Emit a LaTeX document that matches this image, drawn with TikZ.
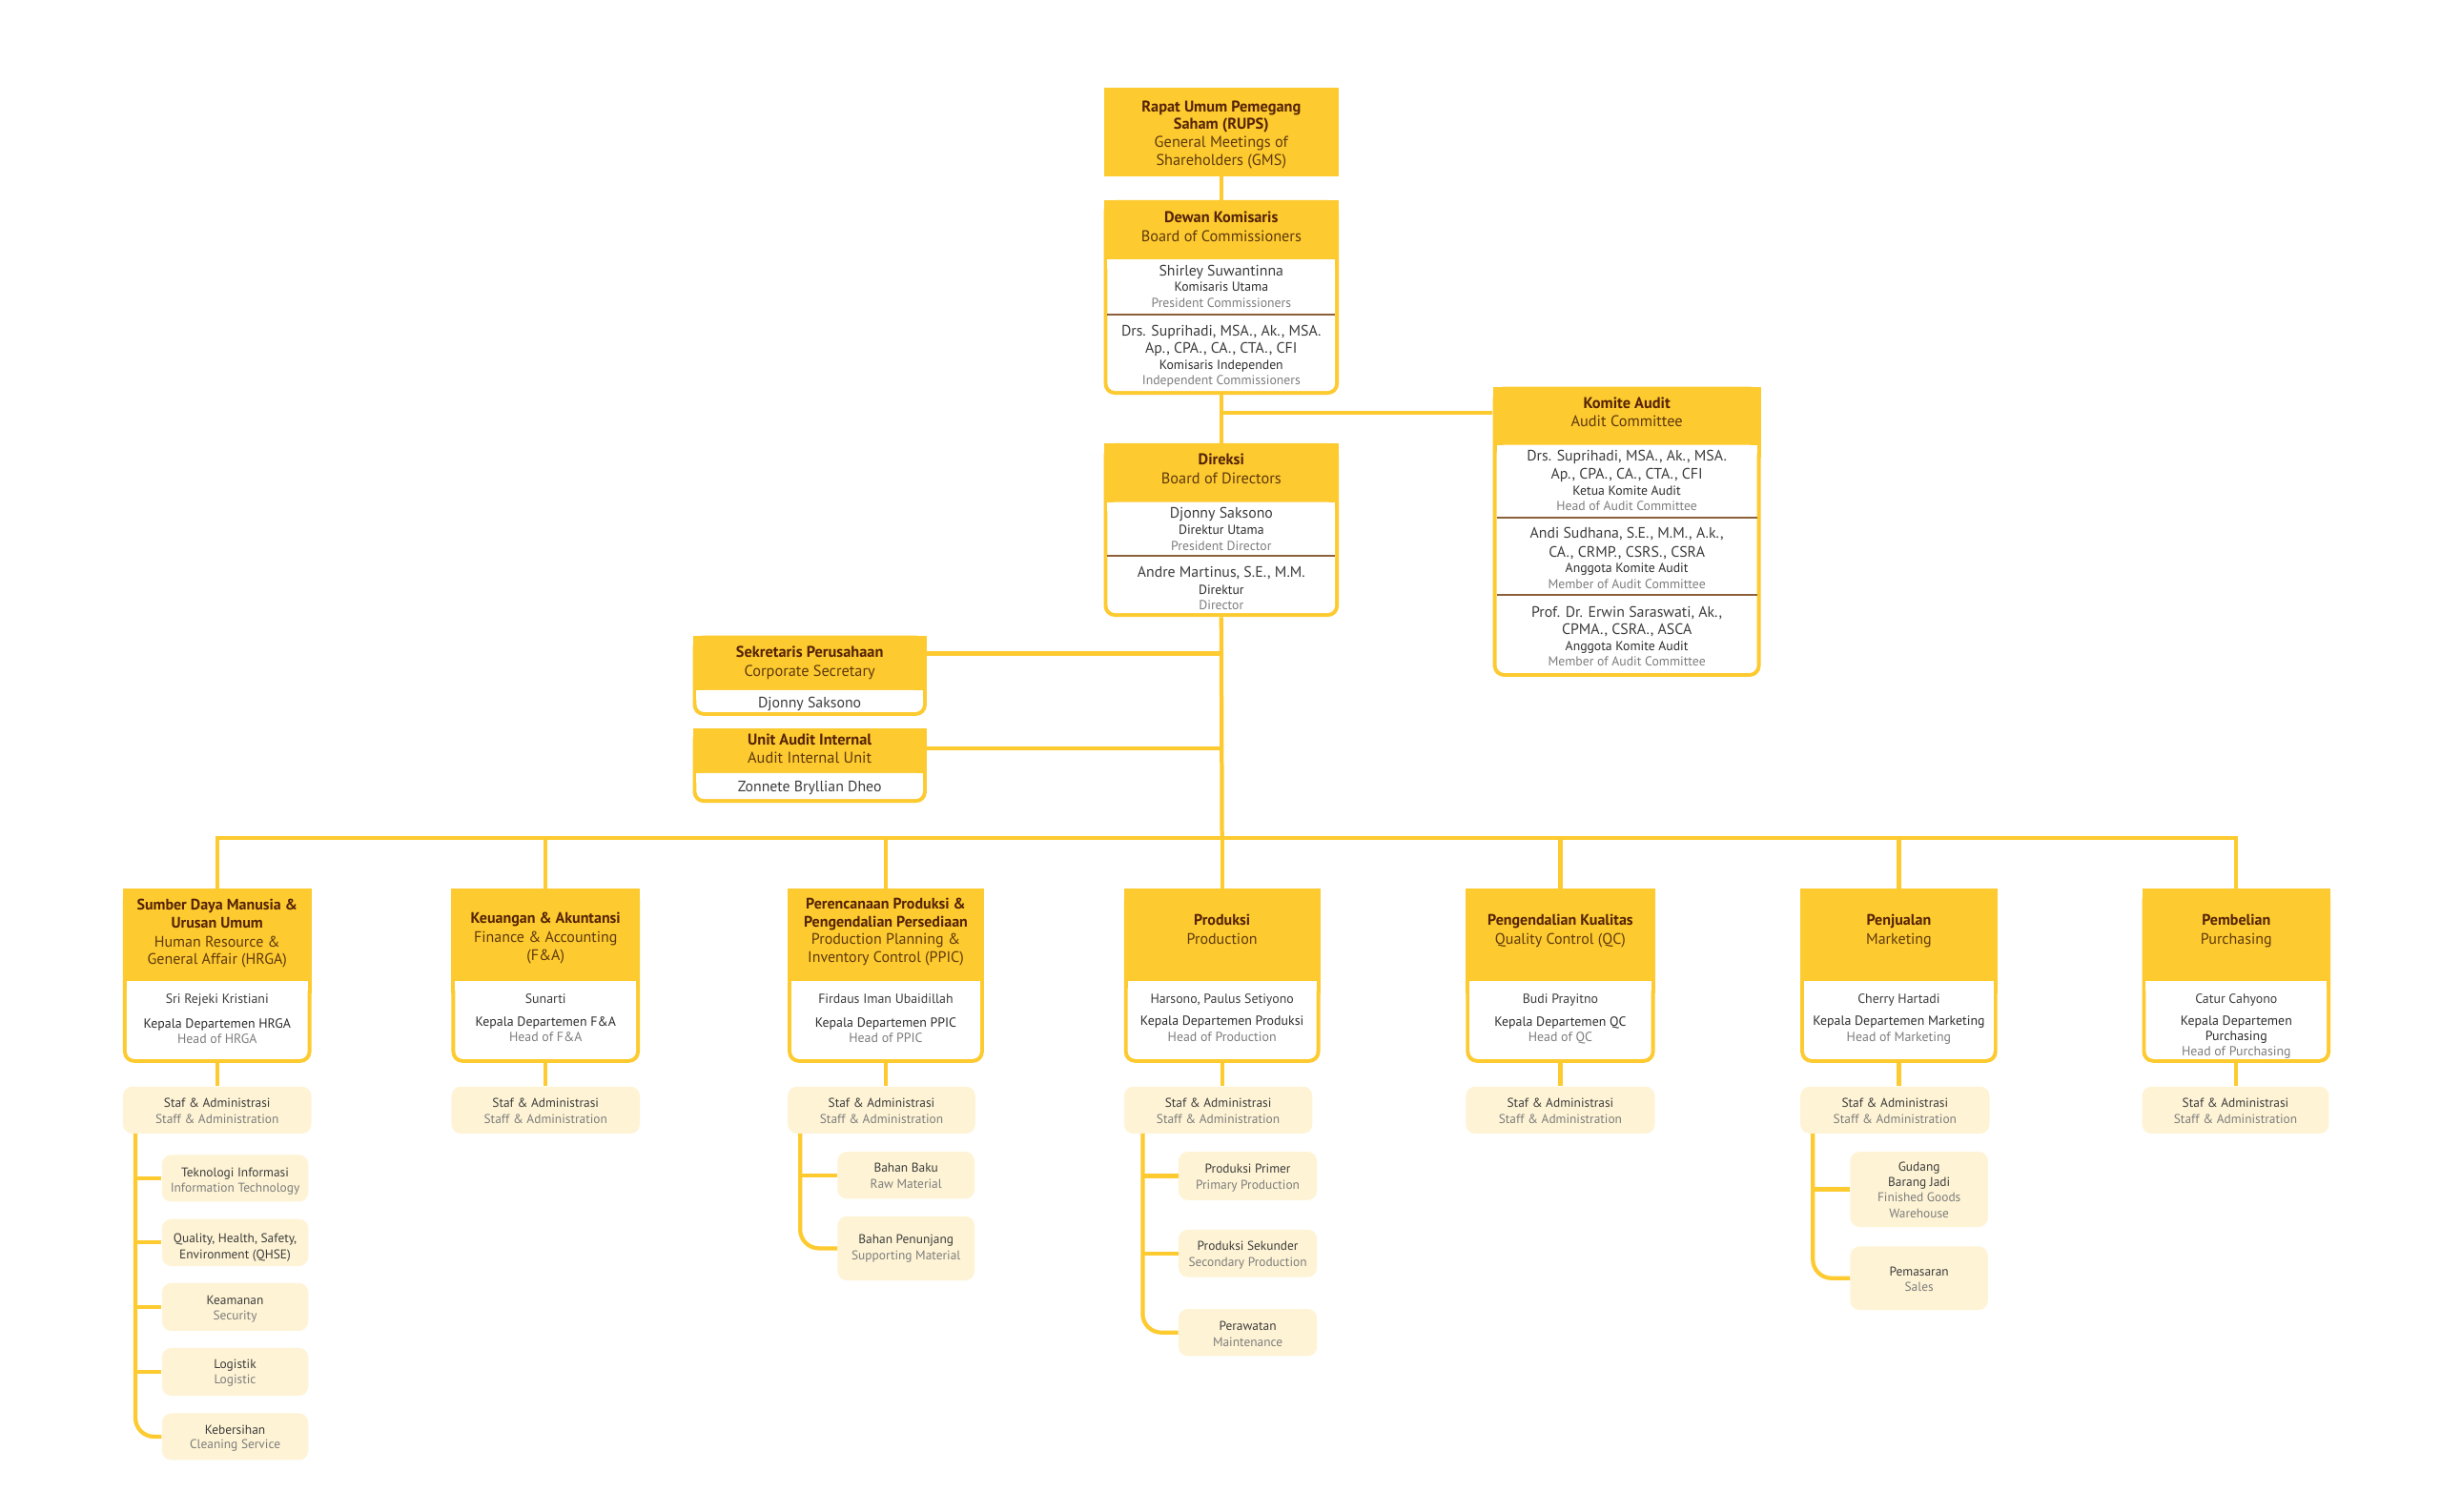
\documentclass[tikz,border=0pt]{standalone}
\usepackage{fontspec}
\setmainfont{PT Sans}
\definecolor{cyel}{RGB}{253,202,48}
\definecolor{cpale}{RGB}{254,243,212}
\definecolor{cdiv}{RGB}{140,96,58}
\definecolor{chb}{RGB}{85,35,5}
\definecolor{chr}{RGB}{95,58,12}
\definecolor{cdark}{RGB}{60,60,60}
\definecolor{crole}{RGB}{45,45,45}
\definecolor{cgray}{RGB}{125,125,125}
\newcounter{tlc}
\newcommand{\tline}[4]{\stepcounter{tlc}\node[#1] (txt\arabic{tlc}) at (#2,#3) {#4};}
% name, x1, x2, ytop, yhead, ybot
\newcommand{\unitbox}[6]{%
 \fill[cyel, rounded corners=7pt] (#2,#4) rectangle (#3,#6);
 \fill[cyel] (#2,#4) rectangle (#3,{#5+8});
 \fill[white, rounded corners=5pt] ({#2+2.4},#5) rectangle ({#3-2.4},{#6-2.4});
 \fill[white] ({#2+2.4},#5) rectangle ({#3-2.4},{#5+6});
 \node[inner sep=0pt, minimum width={#3-#2}, minimum height={#6-#4}] (#1) at ({(#2+#3)/2},{(#4+#6)/2}) {};
}
\newcommand{\palebox}[5]{%
 \node[fill=cpale, rounded corners=6pt, inner sep=0pt, minimum width={#3-#2}, minimum height={#5-#4}] (#1) at ({(#2+#3)/2},{(#4+#5)/2}) {};
}
\newcommand{\divline}[3]{\draw[cdiv, line width=1.3pt] ({#1+2.4},#3) -- ({#2-2.4},#3);}
\tikzset{
 conn/.style={draw=cyel, line width=2.6pt},
 tl/.style={inner sep=0pt, text height=6.2pt, text depth=0pt},
 hb/.style={tl, font=\bfseries\fontsize{10}{11}\selectfont, text=chb},
 hr/.style={tl, font=\fontsize{10}{11}\selectfont, text=chr},
 nm/.style={tl, font=\fontsize{9.7}{11}\selectfont, text=cdark},
 rl/.style={tl, font=\fontsize{8.4}{10}\selectfont, text=crole},
 en/.style={tl, font=\fontsize{8.4}{10}\selectfont, text=cgray},
 dhb/.style={tl, font=\bfseries\fontsize{9.8}{11}\selectfont, text=chb},
 dhr/.style={tl, font=\fontsize{9.8}{11}\selectfont, text=chr},
 dn/.style={tl, font=\fontsize{8.5}{10}\selectfont, text=cdark},
 dr/.style={tl, font=\fontsize{8.5}{10}\selectfont, text=crole},
 de/.style={tl, font=\fontsize{8.5}{10}\selectfont, text=cgray},
 sd/.style={tl, font=\fontsize{8.2}{9}\selectfont, text=cdark},
 sg/.style={tl, font=\fontsize{8.2}{9}\selectfont, text=cgray},
}
\begin{document}
\begin{tikzpicture}[x=1pt,y=-1pt]
\useasboundingbox[fill=white] (0,0) rectangle (1568,971.4);

% ---------- top boxes ----------
\fill[cyel] (709,56.5) rectangle (860,113.3);
\node[inner sep=0pt, minimum width=151, minimum height=56.8] (rups) at (784.5,84.9) {};
\unitbox{boc}{709}{860}{128.6}{166.6}{253.6}
\unitbox{dir}{709}{860}{284.8}{322.5}{396.3}
\unitbox{kom}{959}{1131}{248.4}{285.8}{434.8}
\unitbox{sek}{445}{595.3}{408.3}{443.4}{459.9}
\unitbox{uai}{445}{595.3}{468}{496.6}{515.8}
\divline{709}{860}{202}
\divline{709}{860}{357}
\divline{959}{1131}{332.7}
\divline{959}{1131}{382.3}

% ---------- departments ----------
\unitbox{hrga}{79}{200}{570.9}{630.3}{682.8}
\unitbox{fa}{290}{411}{570.9}{630.3}{682.8}
\unitbox{ppic}{506}{632}{570.9}{630.3}{682.8}
\unitbox{prod}{722}{848}{570.9}{630.3}{682.8}
\unitbox{qc}{941.6}{1063}{570.9}{630.3}{682.8}
\unitbox{mkt}{1156.5}{1283}{570.9}{630.3}{682.8}
\unitbox{pur}{1376}{1497}{570.9}{630.3}{682.8}

\palebox{hrgas}{79}{200}{698.1}{728.3}
\palebox{fas}{290}{411}{698.1}{728.3}
\palebox{ppics}{506}{626.5}{698.1}{728.3}
\palebox{prods}{722}{843}{698.1}{728.3}
\palebox{qcs}{941.6}{1063}{698.1}{728.3}
\palebox{mkts}{1156.5}{1278}{698.1}{728.3}
\palebox{purs}{1376}{1496}{698.1}{728.3}

% sub units
\palebox{ti}{104}{198}{742}{772}
\palebox{qhse}{104}{198}{783.2}{813.4}
\palebox{sec}{104}{198}{824.3}{855}
\palebox{logi}{104}{198}{866}{896.7}
\palebox{keb}{104}{198}{908}{938}
\palebox{baku}{538}{626}{740}{770.2}
\palebox{penun}{538}{626}{781.4}{822.6}
\palebox{prim}{757}{846}{740}{771}
\palebox{seku}{757}{846}{790}{820.5}
\palebox{rawat}{757}{846}{841}{871.2}
\palebox{gud}{1188.5}{1277}{740}{788.3}
\palebox{pem}{1188.5}{1277}{800.8}{841.6}

% ---------- connectors ----------
\coordinate (busc) at (785,538.5);
\coordinate (kj) at (785,265.3);
\coordinate (sekj) at (785,419.9);
\coordinate (uaij) at (785,480.7);
\draw[conn] (rups.south) -- (boc.north);
\draw[conn] (boc.south) -- (dir.north);
\draw[conn] (kj) -- (kj -| kom.west);
\draw[conn] (dir.south) -- (busc);
\draw[conn] (sekj) -- (sekj -| sek.east);
\draw[conn] (uaij) -- (uaij -| uai.east);
\draw[conn] (hrga.north) -- (hrga.north |- busc) -- (pur.north |- busc) -- (pur.north);
\foreach \d in {fa,ppic,prod,qc,mkt}{\draw[conn] (\d.north |- busc) -- (\d.north);}
\foreach \d in {hrga,fa,ppic,prod,qc,mkt,pur}{\draw[conn] (\d.south) -- (\d.south |- \d s.north);}

\coordinate (hsub) at (87,728.3);
\draw[conn, rounded corners=12pt] (hsub) -- (hsub |- keb.west) -- (keb.west);
\foreach \s in {ti,qhse,sec,logi}{\draw[conn] (hsub |- \s.west) -- (\s.west);}
\coordinate (psub) at (514,728.3);
\draw[conn, rounded corners=12pt] (psub) -- (psub |- penun.west) -- (penun.west);
\draw[conn] (psub |- baku.west) -- (baku.west);
\coordinate (rsub) at (734,728.3);
\draw[conn, rounded corners=12pt] (rsub) -- (rsub |- rawat.west) -- (rawat.west);
\foreach \s in {prim,seku}{\draw[conn] (rsub |- \s.west) -- (\s.west);}
\coordinate (msub) at (1164.5,728.3);
\draw[conn, rounded corners=12pt] (msub) -- (msub |- pem.west) -- (pem.west);
\draw[conn] (msub |- gud.west) -- (gud.west);

% ---------- texts: top ----------
\tline{hb}{784.5}{68.6}{Rapat Umum Pemegang}
\tline{hb}{784.5}{79.8}{Saham (RUPS)}
\tline{hr}{784.5}{91.6}{General Meetings of}
\tline{hr}{784.5}{102.9}{Shareholders (GMS)}

\tline{hb}{784.5}{140.2}{Dewan Komisaris}
\tline{hr}{784.5}{151.9}{Board of Commissioners}
\tline{nm}{784.5}{174}{Shirley Suwantinna}
\tline{rl}{784.5}{184.3}{Komisaris Utama}
\tline{en}{784.5}{194.3}{President Commissioners}
\tline{nm}{784.5}{213}{Drs. Suprihadi, MSA., Ak., MSA.}
\tline{nm}{784.5}{224}{Ap., CPA., CA., CTA., CFI}
\tline{rl}{784.5}{234.5}{Komisaris Independen}
\tline{en}{784.5}{243.8}{Independent Commissioners}

\tline{hb}{784.5}{295.6}{Direksi}
\tline{hr}{784.5}{307.8}{Board of Directors}
\tline{nm}{784.5}{329.6}{Djonny Saksono}
\tline{rl}{784.5}{340}{Direktur Utama}
\tline{en}{784.5}{350.5}{President Director}
\tline{nm}{784.5}{367.8}{Andre Martinus, S.E., M.M.}
\tline{rl}{784.5}{378.5}{Direktur}
\tline{en}{784.5}{388.3}{Director}

\tline{hb}{1045}{259.6}{Komite Audit}
\tline{hr}{1045}{271.1}{Audit Committee}
\tline{nm}{1045}{293.3}{Drs. Suprihadi, MSA., Ak., MSA.}
\tline{nm}{1045}{304.8}{Ap., CPA., CA., CTA., CFI}
\tline{rl}{1045}{315}{Ketua Komite Audit}
\tline{en}{1045}{324.8}{Head of Audit Committee}
\tline{nm}{1045}{342.9}{Andi Sudhana, S.E., M.M., A.k.,}
\tline{nm}{1045}{354.6}{CA., CRMP., CSRS., CSRA}
\tline{rl}{1045}{365}{Anggota Komite Audit}
\tline{en}{1045}{375}{Member of Audit Committee}
\tline{nm}{1045}{393.3}{Prof. Dr. Erwin Saraswati, Ak.,}
\tline{nm}{1045}{404.8}{CPMA., CSRA., ASCA}
\tline{rl}{1045}{415}{Anggota Komite Audit}
\tline{en}{1045}{425}{Member of Audit Committee}

\tline{hb}{520.1}{419}{Sekretaris Perusahaan}
\tline{hr}{520.1}{431.3}{Corporate Secretary}
\tline{nm}{520.1}{451.7}{Djonny Saksono}
\tline{hb}{520.1}{475.6}{Unit Audit Internal}
\tline{hr}{520.1}{487.5}{Audit Internal Unit}
\tline{nm}{520.1}{505.6}{Zonnete Bryllian Dheo}

% ---------- texts: departments ----------
\tline{dhb}{139.5}{581.3}{Sumber Daya Manusia \&}
\tline{dhb}{139.5}{593}{Urusan Umum}
\tline{dhr}{139.5}{605.2}{Human Resource \&}
\tline{dhr}{139.5}{616.4}{General Affair (HRGA)}
\tline{dn}{139.5}{641.3}{Sri Rejeki Kristiani}
\tline{dr}{139.5}{657.3}{Kepala Departemen HRGA}
\tline{de}{139.5}{667}{Head of HRGA}

\tline{dhb}{350.5}{590.3}{Keuangan \& Akuntansi}
\tline{dhr}{350.5}{602.6}{Finance \& Accounting}
\tline{dhr}{350.5}{613.8}{(F\&A)}
\tline{dn}{350.5}{641.3}{Sunarti}
\tline{dr}{350.5}{656.3}{Kepala Departemen F\&A}
\tline{de}{350.5}{666}{Head of F\&A}

\tline{dhb}{569}{580.7}{Perencanaan Produksi \&}
\tline{dhb}{569}{592.6}{Pengendalian Persediaan}
\tline{dhr}{569}{603.8}{Production Planning \&}
\tline{dhr}{569}{615.4}{Inventory Control (PPIC)}
\tline{dn}{569}{641.3}{Firdaus Iman Ubaidillah}
\tline{dr}{569}{656.7}{Kepala Departemen PPIC}
\tline{de}{569}{666.5}{Head of PPIC}

\tline{dhb}{785}{591.5}{Produksi}
\tline{dhr}{785}{603.6}{Production}
\tline{dn}{785}{641.3}{Harsono, Paulus Setiyono}
\tline{dr}{785}{655.6}{Kepala Departemen Produksi}
\tline{de}{785}{666}{Head of Production}

\tline{dhb}{1002.3}{591.5}{Pengendalian Kualitas}
\tline{dhr}{1002.3}{603.6}{Quality Control (QC)}
\tline{dn}{1002.3}{641.3}{Budi Prayitno}
\tline{dr}{1002.3}{656.3}{Kepala Departemen QC}
\tline{de}{1002.3}{666}{Head of QC}

\tline{dhb}{1219.75}{591.5}{Penjualan}
\tline{dhr}{1219.75}{603.6}{Marketing}
\tline{dn}{1219.75}{641.3}{Cherry Hartadi}
\tline{dr}{1219.75}{655.6}{Kepala Departemen Marketing}
\tline{de}{1219.75}{666}{Head of Marketing}

\tline{dhb}{1436.5}{591.5}{Pembelian}
\tline{dhr}{1436.5}{603.6}{Purchasing}
\tline{dn}{1436.5}{641.3}{Catur Cahyono}
\tline{dr}{1436.5}{655.6}{Kepala Departemen}
\tline{dr}{1436.5}{665.4}{Purchasing}
\tline{de}{1436.5}{675.2}{Head of Purchasing}

% staff
\foreach \cx in {139.5,350.5,566.25,782.5,1002.3,1217.25,1436}{
 \tline{sd}{\cx}{708.3}{Staf \& Administrasi}
 \tline{sg}{\cx}{718.5}{Staff \& Administration}
}

% sub texts
\tline{sd}{151}{752.8}{Teknologi Informasi}
\tline{sg}{151}{762.8}{Information Technology}
\tline{sd}{151}{795.5}{Quality, Health, Safety,}
\tline{sd}{151}{805.7}{Environment (QHSE)}
\tline{sd}{151}{834.8}{Keamanan}
\tline{sg}{151}{844.6}{Security}
\tline{sd}{151}{876.1}{Logistik}
\tline{sg}{151}{885.9}{Logistic}
\tline{sd}{151}{918.1}{Kebersihan}
\tline{sg}{151}{927.7}{Cleaning Service}

\tline{sd}{582}{750.2}{Bahan Baku}
\tline{sg}{582}{760.4}{Raw Material}
\tline{sd}{582}{796}{Bahan Penunjang}
\tline{sg}{582}{806.3}{Supporting Material}

\tline{sd}{801.5}{750.8}{Produksi Primer}
\tline{sg}{801.5}{760.7}{Primary Production}
\tline{sd}{801.5}{800.2}{Produksi Sekunder}
\tline{sg}{801.5}{810.4}{Secondary Production}
\tline{sd}{801.5}{851.6}{Perawatan}
\tline{sg}{801.5}{861.8}{Maintenance}

\tline{sd}{1232.75}{749.1}{Gudang}
\tline{sd}{1232.75}{759.3}{Barang Jadi}
\tline{sg}{1232.75}{769.1}{Finished Goods}
\tline{sg}{1232.75}{779.3}{Warehouse}
\tline{sd}{1232.75}{816.5}{Pemasaran}
\tline{sg}{1232.75}{826.3}{Sales}
\end{tikzpicture}
\end{document}
